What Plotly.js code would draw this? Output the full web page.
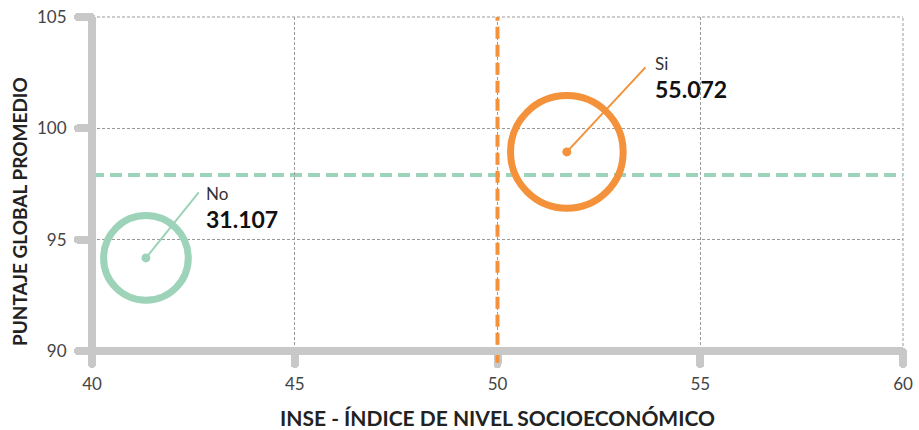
<!DOCTYPE html>
<html>
<head>
<meta charset="utf-8">
<script src="https://cdn.plot.ly/plotly-3.0.1.min.js"></script>
<style>
  html, body { margin: 0; padding: 0; background: #fff; }
  #chart { width: 919px; height: 430px; }
  path.xtick, path.ytick { stroke-linecap: round; }
</style>
</head>
<body>
<div id="chart"></div>
<script>
// ---- data ----
const groups = ['No', 'Si'];
const inse = [41.33, 51.71];            // x: INSE
const puntaje = [94.18, 98.94];         // y: puntaje global promedio
const estudiantes = [31107, 55072];     // bubble size
const etiquetas = ['31.107', '55.072'];
const refPuntaje = 97.9;                // horizontal reference
const refInse = 50;                     // vertical reference
const xTicks = [40, 45, 50, 55, 60];
const yTicks = [90, 95, 100, 105];
const xTitle = 'INSE - ÍNDICE DE NIVEL SOCIOECONÓMICO';
const yTitle = 'PUNTAJE GLOBAL PROMEDIO';

const colors = ['#9dd3b9', '#f3923a'];
const axisGray = '#c8c8c8';
const gridGray = '#9a9a9a';
const font = 'Lato, "Open Sans", sans-serif';

const traces = [
  {
    type: 'scatter', mode: 'markers',
    x: inse, y: puntaje, text: groups,
    marker: {
      symbol: 'circle', size: estudiantes, sizemode: 'area', sizeref: 8.68,
      color: 'rgba(0,0,0,0)', opacity: 1,
      line: { color: colors, width: 7 }
    },
    hoverinfo: 'text', showlegend: false, cliponaxis: false
  },
  {
    type: 'scatter', mode: 'markers',
    x: inse, y: puntaje,
    marker: { symbol: 'circle', size: 9, color: colors, opacity: 1 },
    hoverinfo: 'skip', showlegend: false, cliponaxis: false
  }
];

const annotations = [];
const leader = [[54, -67], [80, -86]];
const labelShift = [[58, 77], [86, 101]];
groups.forEach((g, i) => {
  annotations.push({
    x: inse[i], y: puntaje[i], xref: 'x', yref: 'y',
    text: '', showarrow: true, arrowhead: 0, arrowwidth: 2,
    arrowcolor: colors[i], ax: leader[i][0], ay: leader[i][1], standoff: 0
  });
  annotations.push({
    x: inse[i], y: puntaje[i], xref: 'x', yref: 'y',
    text: g, showarrow: false, xanchor: 'left', yanchor: 'top',
    xshift: labelShift[i][0], yshift: labelShift[i][1],
    font: { family: font, size: 17, color: '#333' }
  });
  annotations.push({
    x: inse[i], y: puntaje[i], xref: 'x', yref: 'y',
    text: '<b>' + etiquetas[i] + '</b>', showarrow: false, xanchor: 'left', yanchor: 'top',
    xshift: labelShift[i][0], yshift: labelShift[i][1] - 22,
    font: { family: font, size: 23, color: '#111' }
  });
});
// y-axis title (placed as annotation for exact position)
annotations.push({
  xref: 'paper', yref: 'paper', x: 0, y: 0.5, xanchor: 'center', yanchor: 'middle',
  xshift: -73, yshift: -28, textangle: -90, showarrow: false,
  text: '<b>' + yTitle + '</b>', font: { family: font, size: 19, color: '#222' }
});

const layout = {
  width: 919, height: 430,
  margin: { l: 92, r: 16, t: 17, b: 79 },
  paper_bgcolor: '#fff', plot_bgcolor: '#fff',
  font: { family: font, color: '#444' },
  xaxis: {
    range: [40, 60], tickvals: xTicks, ticktext: xTicks.map(String),
    ticks: 'outside', ticklen: 12, tickwidth: 8, tickcolor: axisGray,
    showgrid: true, gridcolor: gridGray, gridwidth: 1, griddash: '3px,2px',
    zeroline: false, showline: false,
    tickfont: { family: font, size: 17, color: '#444' },
    ticklabelstandoff: 6,
    title: { text: '<b>' + xTitle + '</b>', font: { family: font, size: 21, color: '#222' }, standoff: 17 },
    automargin: false
  },
  yaxis: {
    range: [90, 105], tickvals: yTicks, ticktext: yTicks.map(String),
    ticks: 'outside', ticklen: 13, tickwidth: 8, tickcolor: axisGray,
    showgrid: true, gridcolor: gridGray, gridwidth: 1, griddash: '3px,2px',
    zeroline: false, showline: false,
    tickfont: { family: font, size: 17, color: '#444' },
    ticklabelstandoff: 8,
    automargin: false
  },
  shapes: [
    // edge grid lines (top / right)
    { type: 'line', xref: 'paper', yref: 'paper', x0: 0, x1: 1, y0: 1, y1: 1,
      line: { color: gridGray, width: 1, dash: '3px,2px' }, layer: 'below' },
    { type: 'line', xref: 'paper', yref: 'paper', x0: 1, x1: 1, y0: 0, y1: 1,
      line: { color: gridGray, width: 1, dash: '3px,2px' }, layer: 'below' },
    { type: 'line', xref: 'paper', yref: 'y', x0: 0, x1: 1, y0: refPuntaje, y1: refPuntaje,
      line: { color: colors[0], width: 4, dash: '12px,6px' }, layer: 'below' },
    { type: 'line', xref: 'x', yref: 'paper', x0: refInse, x1: refInse, y0: -0.035, y1: 1,
      line: { color: colors[1], width: 4, dash: '12px,6px' }, layer: 'above' },
    { type: 'line', xref: 'paper', yref: 'paper', x0: 0, x1: 0, y0: 0, y1: 1,
      line: { color: axisGray, width: 8 }, layer: 'above' },
    { type: 'line', xref: 'paper', yref: 'paper', x0: 0, x1: 1, y0: 0, y1: 0,
      line: { color: axisGray, width: 8 }, layer: 'above' }
  ],
  annotations: annotations,
  showlegend: false
};

Plotly.newPlot('chart', traces, layout, { displayModeBar: false, staticPlot: true });
</script>
</body>
</html>
